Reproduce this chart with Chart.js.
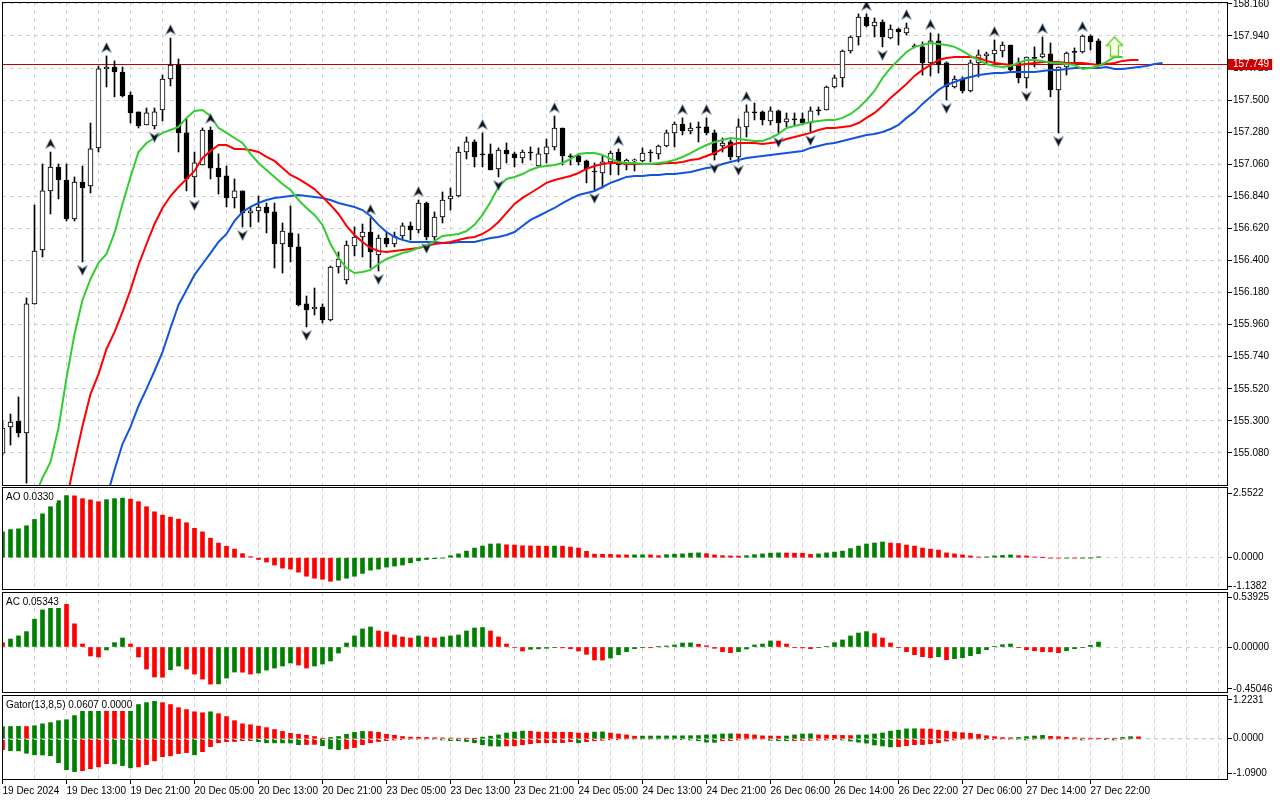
<!DOCTYPE html>
<html>
<head>
<meta charset="utf-8">
<title>USDJPY H1 - Alligator, AO, AC, Gator</title>
<script src="https://cdn.jsdelivr.net/npm/chart.js@4.4.1/dist/chart.umd.min.js"></script>
<style>
  html, body { margin: 0; padding: 0; background: #fff; }
  body { width: 1280px; height: 800px; overflow: hidden; position: relative; }
  canvas { position: absolute; left: 0; display: block; }
</style>
</head>
<body>
<canvas id="main" width="1280" height="487" style="top:0;width:1280px;height:487px"></canvas>
<canvas id="ao" width="1280" height="104" style="top:487px;width:1280px;height:104px"></canvas>
<canvas id="ac" width="1280" height="103" style="top:591px;width:1280px;height:103px"></canvas>
<canvas id="gator" width="1280" height="106" style="top:694px;width:1280px;height:106px"></canvas>
<script>
// time axis labels, one every 8 bars
const timeLabels = ['19 Dec 2024', '19 Dec 13:00', '19 Dec 21:00', '20 Dec 05:00', '20 Dec 13:00', '20 Dec 21:00',
  '23 Dec 05:00', '23 Dec 13:00', '23 Dec 21:00', '24 Dec 05:00', '24 Dec 13:00', '24 Dec 21:00',
  '26 Dec 06:00', '26 Dec 14:00', '26 Dec 22:00', '27 Dec 06:00', '27 Dec 14:00', '27 Dec 22:00'];

// H1 candles, bar 0 .. 137
const opens = [
  155.079, 155.258, 155.299, 155.217, 156.102, 156.472, 156.877, 157.041, 156.952, 156.685,
  156.938, 156.911, 157.172, 157.714, 157.727, 157.693, 157.535, 157.419, 157.330, 157.323,
  157.432, 157.645, 157.741, 157.275, 156.973, 157.055, 157.295, 157.034, 156.980, 156.829,
  156.877, 156.726, 156.740, 156.767, 156.733, 156.513, 156.589, 156.493, 156.102, 156.067,
  156.081, 155.992, 156.355, 156.266, 156.499, 156.561, 156.595, 156.438, 156.554, 156.513,
  156.568, 156.637, 156.609, 156.794, 156.561, 156.698, 156.822, 156.842, 157.144, 157.213,
  157.131, 157.131, 157.028, 157.158, 157.131, 157.103, 157.144, 157.048, 157.131, 157.179,
  157.309, 157.117, 157.117, 157.083, 157.014, 157.000, 157.076, 157.144, 157.055, 157.083,
  157.083, 157.144, 157.131, 157.185, 157.275, 157.336, 157.288, 157.316, 157.316, 157.275,
  157.185, 157.213, 157.110, 157.316, 157.419, 157.419, 157.357, 157.426, 157.350, 157.371,
  157.371, 157.343, 157.432, 157.432, 157.590, 157.652, 157.837, 157.933, 158.070, 158.009,
  158.036, 157.926, 157.988, 157.961, 157.871, 157.865, 157.755, 157.906, 157.755, 157.590,
  157.645, 157.563, 157.755, 157.803, 157.817, 157.837, 157.878, 157.755, 157.652, 157.792,
  157.796, 157.817, 157.570, 157.727, 157.833, 157.830, 157.940, 157.906];
const highs = [
  155.299, 155.347, 155.464, 156.143, 156.781, 157.062, 157.144, 157.062, 157.062, 156.973,
  157.048, 157.343, 157.734, 157.803, 157.769, 157.727, 157.556, 157.419, 157.446, 157.446,
  157.672, 157.926, 157.782, 157.371, 157.144, 157.309, 157.316, 157.131, 157.048, 156.959,
  156.877, 156.767, 156.842, 156.794, 156.794, 156.657, 156.774, 156.582, 156.156, 156.211,
  156.102, 156.362, 156.458, 156.534, 156.630, 156.650, 156.692, 156.575, 156.595, 156.595,
  156.657, 156.664, 156.815, 156.801, 156.733, 156.870, 156.897, 157.179, 157.247, 157.227,
  157.275, 157.199, 157.172, 157.206, 157.144, 157.158, 157.179, 157.172, 157.233, 157.391,
  157.309, 157.131, 157.124, 157.089, 157.069, 157.117, 157.151, 157.165, 157.096, 157.096,
  157.172, 157.158, 157.192, 157.295, 157.350, 157.378, 157.343, 157.350, 157.378, 157.295,
  157.240, 157.227, 157.371, 157.467, 157.480, 157.426, 157.453, 157.432, 157.412, 157.412,
  157.412, 157.453, 157.453, 157.597, 157.672, 157.844, 157.940, 158.091, 158.091, 158.064,
  158.050, 158.016, 157.995, 158.029, 157.885, 157.899, 157.961, 157.954, 157.762, 157.666,
  157.659, 157.775, 157.844, 157.830, 157.913, 157.899, 157.878, 157.789, 157.796, 157.865,
  157.933, 157.892, 157.727, 157.830, 157.858, 157.947, 157.947, 157.920];
const lows = [
  155.065, 155.134, 155.189, 154.873, 156.100, 156.424, 156.719, 156.822, 156.671, 156.671,
  156.390, 156.863, 157.144, 157.590, 157.522, 157.522, 157.343, 157.309, 157.330, 157.302,
  157.357, 157.597, 157.144, 156.877, 156.836, 157.055, 156.959, 156.856, 156.767, 156.760,
  156.630, 156.630, 156.664, 156.589, 156.348, 156.314, 156.390, 156.088, 155.944, 156.026,
  155.971, 155.985, 156.314, 156.239, 156.431, 156.424, 156.348, 156.328, 156.493, 156.493,
  156.541, 156.541, 156.589, 156.541, 156.541, 156.657, 156.746, 156.836, 157.096, 157.041,
  157.041, 157.021, 156.973, 157.069, 157.041, 157.069, 157.089, 157.041, 157.069, 157.158,
  157.055, 157.055, 157.055, 156.932, 156.884, 156.897, 156.987, 156.987, 157.021, 157.014,
  157.076, 157.076, 157.096, 157.179, 157.179, 157.261, 157.268, 157.213, 157.261, 157.089,
  157.144, 157.089, 157.076, 157.247, 157.364, 157.330, 157.330, 157.268, 157.316, 157.330,
  157.330, 157.281, 157.398, 157.432, 157.583, 157.590, 157.823, 157.878, 158.002, 157.933,
  157.865, 157.920, 157.878, 157.947, 157.858, 157.672, 157.666, 157.686, 157.501, 157.583,
  157.549, 157.556, 157.659, 157.755, 157.755, 157.796, 157.700, 157.618, 157.583, 157.727,
  157.789, 157.522, 157.275, 157.672, 157.762, 157.823, 157.844, 157.741];
const closes = [
  155.251, 155.292, 155.217, 156.102, 156.465, 156.877, 157.041, 156.952, 156.685, 156.938,
  156.897, 157.165, 157.714, 157.727, 157.693, 157.528, 157.412, 157.323, 157.412, 157.419,
  157.645, 157.741, 157.275, 156.959, 157.069, 157.295, 157.034, 156.973, 156.829, 156.877,
  156.726, 156.740, 156.767, 156.726, 156.513, 156.602, 156.493, 156.095, 156.060, 156.081,
  155.992, 156.355, 156.410, 156.506, 156.561, 156.595, 156.458, 156.554, 156.513, 156.568,
  156.637, 156.609, 156.794, 156.561, 156.698, 156.815, 156.842, 157.144, 157.213, 157.110,
  157.124, 157.021, 157.158, 157.131, 157.103, 157.144, 157.137, 157.131, 157.179, 157.309,
  157.117, 157.110, 157.076, 157.028, 157.007, 157.076, 157.137, 157.055, 157.089, 157.089,
  157.137, 157.137, 157.185, 157.275, 157.336, 157.288, 157.309, 157.309, 157.275, 157.124,
  157.206, 157.110, 157.316, 157.419, 157.412, 157.364, 157.426, 157.343, 157.371, 157.364,
  157.343, 157.426, 157.426, 157.590, 157.652, 157.837, 157.933, 158.070, 158.009, 158.036,
  157.933, 157.988, 157.967, 157.995, 157.866, 157.755, 157.906, 157.741, 157.590, 157.645,
  157.563, 157.755, 157.810, 157.817, 157.844, 157.878, 157.707, 157.652, 157.796, 157.786,
  157.817, 157.570, 157.727, 157.823, 157.827, 157.940, 157.899, 157.749];

// Alligator lines as drawn (already shifted); first bar index of each
const lipsStart = 4;
const lips = [
  154.778, 154.908, 155.018, 155.251, 155.594, 155.895, 156.129, 156.273, 156.383, 156.445,
  156.589, 156.788, 156.973, 157.144, 157.206, 157.240, 157.275, 157.295, 157.316, 157.378,
  157.426, 157.432, 157.391, 157.309, 157.275, 157.240, 157.206, 157.131, 157.069, 157.021,
  156.973, 156.925, 156.884, 156.815, 156.760, 156.712, 156.644, 156.513, 156.417, 156.348,
  156.314, 156.321, 156.335, 156.376, 156.410, 156.431, 156.451, 156.465, 156.486, 156.506,
  156.534, 156.568, 156.575, 156.582, 156.602, 156.644, 156.712, 156.801, 156.904, 156.959,
  156.973, 156.993, 157.021, 157.041, 157.048, 157.055, 157.069, 157.096, 157.131, 157.137,
  157.137, 157.124, 157.096, 157.076, 157.069, 157.069, 157.062, 157.062, 157.069, 157.076,
  157.089, 157.110, 157.137, 157.165, 157.192, 157.213, 157.227, 157.240, 157.233, 157.227,
  157.220, 157.220, 157.240, 157.268, 157.309, 157.323, 157.336, 157.350, 157.357, 157.364,
  157.364, 157.378, 157.405, 157.446, 157.501, 157.563, 157.652, 157.721, 157.775, 157.830,
  157.865, 157.878, 157.892, 157.885, 157.878, 157.865, 157.837, 157.803, 157.775, 157.748,
  157.734, 157.727, 157.734, 157.755, 157.775, 157.775, 157.769, 157.755, 157.755, 157.748,
  157.741, 157.714, 157.721, 157.734, 157.762, 157.796, 157.796];
const teethStart = 8;
const teeth = [
  154.757, 155.018, 155.265, 155.484, 155.621, 155.793, 155.909, 156.047, 156.198, 156.369,
  156.513, 156.650, 156.760, 156.842, 156.904, 156.959, 157.014, 157.103, 157.151, 157.192,
  157.192, 157.165, 157.165, 157.158, 157.144, 157.110, 157.083, 157.034, 156.987, 156.959,
  156.925, 156.890, 156.836, 156.781, 156.719, 156.637, 156.575, 156.527, 156.486, 156.465,
  156.458, 156.465, 156.472, 156.479, 156.486, 156.499, 156.513, 156.520, 156.527, 156.541,
  156.554, 156.561, 156.582, 156.616, 156.664, 156.726, 156.788, 156.829, 156.863, 156.897,
  156.932, 156.952, 156.966, 156.980, 157.000, 157.028, 157.048, 157.062, 157.069, 157.069,
  157.062, 157.062, 157.062, 157.062, 157.062, 157.069, 157.069, 157.076, 157.089, 157.096,
  157.117, 157.137, 157.165, 157.192, 157.206, 157.206, 157.206, 157.199, 157.206, 157.213,
  157.233, 157.247, 157.261, 157.275, 157.295, 157.309, 157.309, 157.316, 157.323, 157.343,
  157.378, 157.412, 157.460, 157.515, 157.563, 157.611, 157.666, 157.707, 157.741, 157.775,
  157.789, 157.796, 157.796, 157.796, 157.789, 157.769, 157.755, 157.748, 157.741, 157.741,
  157.748, 157.755, 157.762, 157.762, 157.762, 157.755, 157.755, 157.755, 157.748, 157.741,
  157.748, 157.755, 157.769, 157.775, 157.775];
const jawStart = 13;
const jaw = [
  154.771, 154.963, 155.141, 155.258, 155.402, 155.519, 155.642, 155.772, 155.937, 156.095,
  156.198, 156.301, 156.376, 156.451, 156.527, 156.582, 156.671, 156.733, 156.767, 156.794,
  156.815, 156.829, 156.836, 156.842, 156.849, 156.842, 156.836, 156.829, 156.815, 156.794,
  156.781, 156.767, 156.746, 156.705, 156.644, 156.595, 156.561, 156.541, 156.527, 156.527,
  156.527, 156.527, 156.520, 156.520, 156.527, 156.527, 156.527, 156.541, 156.554, 156.561,
  156.575, 156.595, 156.637, 156.678, 156.705, 156.733, 156.760, 156.794, 156.822, 156.849,
  156.863, 156.877, 156.904, 156.932, 156.952, 156.973, 156.980, 156.980, 156.987, 156.987,
  156.993, 156.993, 157.000, 157.007, 157.021, 157.034, 157.041, 157.062, 157.076, 157.089,
  157.103, 157.110, 157.117, 157.124, 157.131, 157.137, 157.144, 157.151, 157.172, 157.185,
  157.199, 157.206, 157.220, 157.233, 157.247, 157.261, 157.268, 157.281, 157.302, 157.330,
  157.378, 157.419, 157.474, 157.522, 157.570, 157.604, 157.624, 157.645, 157.659, 157.672,
  157.679, 157.686, 157.686, 157.693, 157.693, 157.693, 157.693, 157.700, 157.707, 157.707,
  157.714, 157.721, 157.721, 157.721, 157.721, 157.727, 157.714, 157.714, 157.721, 157.727,
  157.734, 157.748, 157.755];

// fractal bars
const fractalUp = [6, 13, 21, 26, 46, 52, 60, 69, 77, 85, 88, 93, 108, 113, 116, 124, 130, 135];
const fractalDown = [3, 10, 19, 24, 30, 38, 47, 53, 62, 74, 89, 92, 97, 101, 110, 118, 128, 132];
// buy signal arrow after the last bar
const signalBar = 139;
const signalPrice = 157.865;

const priceTicks = [158.16, 157.94, 157.72, 157.50, 157.28, 157.06, 156.84, 156.62, 156.40, 156.18,
  155.96, 155.74, 155.52, 155.30, 155.08];

// Awesome Oscillator
const ao = [
  1.02, 1.11, 1.14, 1.26, 1.51, 1.73, 2.01, 2.25, 2.45, 2.44,
  2.33, 2.28, 2.21, 2.29, 2.33, 2.35, 2.31, 2.21, 2.01, 1.81,
  1.68, 1.60, 1.52, 1.38, 1.16, 1.02, 0.77, 0.58, 0.45, 0.34,
  0.16, 0.04, -0.07, -0.17, -0.29, -0.41, -0.45, -0.57, -0.73, -0.81,
  -0.85, -0.93, -0.89, -0.81, -0.73, -0.62, -0.49, -0.45, -0.37, -0.33,
  -0.29, -0.20, -0.12, -0.07, -0.04, -0.01, 0.08, 0.15, 0.26, 0.38,
  0.46, 0.54, 0.55, 0.51, 0.50, 0.47, 0.465, 0.46, 0.455, 0.46,
  0.455, 0.42, 0.38, 0.25, 0.14, 0.135, 0.13, 0.115, 0.11, 0.112,
  0.114, 0.11, 0.08, 0.12, 0.14, 0.15, 0.18, 0.19, 0.16, 0.11,
  0.08, 0.07, 0.065, 0.08, 0.12, 0.15, 0.18, 0.19, 0.185, 0.18,
  0.175, 0.13, 0.15, 0.19, 0.22, 0.26, 0.36, 0.46, 0.54, 0.58,
  0.62, 0.58, 0.56, 0.50, 0.46, 0.38, 0.34, 0.30, 0.19, 0.15,
  0.11, 0.07, 0.03, 0.035, 0.07, 0.09, 0.11, 0.08, 0.07, 0.03,
  0.005, -0.01, -0.015, -0.01, -0.012, -0.008, -0.005, 0.0330];
const aoTicks = [2.5522, 0, -1.1382];

// Accelerator Oscillator
const ac = [
  0.047, 0.086, 0.12, 0.166, 0.30, 0.40, 0.45, 0.50, 0.46, 0.25,
  0.032, -0.097, -0.108, -0.032, 0.047, 0.097, 0.032, -0.108, -0.238, -0.324,
  -0.326, -0.245, -0.205, -0.238, -0.292, -0.346, -0.40, -0.398, -0.335, -0.27,
  -0.272, -0.292, -0.281, -0.249, -0.227, -0.205, -0.173, -0.195, -0.227, -0.205,
  -0.184, -0.151, -0.065, 0.043, 0.119, 0.195, 0.216, 0.173, 0.162, 0.13,
  0.108, 0.097, 0.119, 0.108, 0.097, 0.108, 0.119, 0.13, 0.173, 0.205,
  0.21, 0.173, 0.108, 0.032, -0.005, -0.043, -0.025, -0.02, -0.014, -0.007,
  -0.009, -0.018, -0.043, -0.079, -0.14, -0.141, -0.119, -0.083, -0.05, -0.018,
  -0.007, -0.008, 0.002, 0.011, 0.022, 0.043, 0.044, 0.029, 0.014, -0.014,
  -0.05, -0.061, -0.05, -0.022, 0.022, 0.032, 0.065, 0.064, 0.032, -0.004,
  -0.01, -0.018, -0.007, 0.007, 0.047, 0.076, 0.119, 0.151, 0.166, 0.144,
  0.097, 0.043, -0.004, -0.05, -0.083, -0.105, -0.115, -0.105, -0.137, -0.126,
  -0.115, -0.094, -0.072, -0.029, 0.007, 0.025, 0.032, -0.007, -0.029, -0.04,
  -0.05, -0.052, -0.061, -0.04, -0.018, -0.007, 0.018, 0.05343];
const acTicks = [0.53925, 0, -0.45046];

// Gator oscillator, upper |jaw-teeth| and lower -|teeth-lips|, bar 0 .. 142
const gatorUp = [
  0.38, 0.385, 0.39, 0.385, 0.41, 0.47, 0.51, 0.57, 0.60, 0.73,
  0.92, 0.925, 0.93, 0.925, 0.92, 0.915, 1.01, 1.08, 1.14, 1.18,
  1.14, 1.08, 0.98, 0.92, 0.85, 0.82, 0.85, 0.79, 0.70, 0.57,
  0.47, 0.44, 0.40, 0.35, 0.29, 0.23, 0.17, 0.14, 0.11, 0.07,
  0.01, 0.04, 0.07, 0.14, 0.20, 0.23, 0.225, 0.20, 0.14, 0.11,
  0.07, 0.05, 0.045, 0.04, 0.03, 0.025, 0.02, 0.015, 0.01, 0.005,
  0.05, 0.08, 0.12, 0.18, 0.21, 0.24, 0.235, 0.21, 0.208, 0.206,
  0.204, 0.202, 0.18, 0.178, 0.21, 0.215, 0.18, 0.15, 0.12, 0.08,
  0.082, 0.084, 0.086, 0.088, 0.09, 0.092, 0.095, 0.10, 0.12, 0.125,
  0.15, 0.155, 0.15, 0.145, 0.12, 0.09, 0.085, 0.08, 0.085, 0.12,
  0.15, 0.155, 0.12, 0.115, 0.11, 0.105, 0.10, 0.116, 0.12, 0.15,
  0.18, 0.24, 0.27, 0.31, 0.315, 0.31, 0.305, 0.27, 0.24, 0.21,
  0.19, 0.17, 0.14, 0.095, 0.065, 0.035, 0.03, 0.04, 0.065, 0.085,
  0.105, 0.075, 0.065, 0.045, 0.03, 0.02, 0.018, 0.016, 0.012, 0.01,
  0.04, 0.065, 0.0607];
const gatorDown = [
  -0.35, -0.38, -0.385, -0.46, -0.51, -0.515, -0.54, -0.76, -0.98, -1.04,
  -1.01, -0.95, -0.89, -0.79, -0.795, -0.85, -0.92, -0.89, -0.82, -0.70,
  -0.57, -0.54, -0.47, -0.44, -0.51, -0.41, -0.25, -0.13, -0.095, -0.09,
  -0.063, -0.06, -0.095, -0.13, -0.132, -0.134, -0.136, -0.19, -0.185, -0.18,
  -0.22, -0.32, -0.35, -0.32, -0.28, -0.19, -0.13, -0.09, -0.06, -0.04,
  -0.03, -0.02, -0.015, -0.01, -0.02, -0.04, -0.06, -0.065, -0.09, -0.13,
  -0.19, -0.23, -0.235, -0.23, -0.225, -0.19, -0.16, -0.13, -0.128, -0.126,
  -0.124, -0.095, -0.13, -0.095, -0.065, -0.05, -0.035, -0.033, -0.01, -0.012,
  -0.014, -0.012, -0.013, -0.015, -0.02, -0.03, -0.04, -0.065, -0.11, -0.115,
  -0.065, -0.06, -0.04, -0.02, -0.01, -0.005, -0.05, -0.06, -0.065, -0.06,
  -0.055, -0.05, -0.045, -0.04, -0.03, -0.04, -0.075, -0.11, -0.14, -0.20,
  -0.23, -0.26, -0.255, -0.22, -0.19, -0.185, -0.16, -0.13, -0.075, -0.04,
  -0.02, -0.01, -0.012, -0.03, -0.028, -0.01, -0.02, -0.022, -0.04, -0.02,
  -0.01, -0.008, -0.007, -0.006, -0.005, -0.04, -0.01, -0.008, -0.03, -0.04,
  -0.02, -0.01, 0];
const gatorTicks = [1.2231, 0, -1.09];

// ---- styling ----
const GREEN = '#008000', RED = '#ff0000';
const GRID = '#d4d4d4';
const FONT = '"Liberation Sans", Arial, sans-serif';
const FONT_SIZE = 10;
const X_MIN = -0.0625, X_MAX = 153.1875;   // bar i sits at pixel 2.5 + 8*i
const AXIS_W = 52;

Chart.defaults.font.family = FONT;
Chart.defaults.font.size = FONT_SIZE;
Chart.defaults.color = '#000';
Chart.defaults.animation = false;
Chart.defaults.plugins.legend.display = false;
Chart.defaults.plugins.tooltip.enabled = false;

function colorsByDirection(vals, firstUp, useAbs) {
  return vals.map((v, i) => {
    if (i === 0) return firstUp ? GREEN : RED;
    const up = useAbs ? Math.abs(v) >= Math.abs(vals[i - 1]) : v >= vals[i - 1];
    return up ? GREEN : RED;
  });
}

const hasLabel = v => v % 8 === 0 && !!timeLabels[v / 8];

function xAxis(showLabels) {
  return {
    type: 'linear', min: X_MIN, max: X_MAX, offset: false,
    afterBuildTicks: s => { const t = []; for (let v = 0; v <= 152; v += 4) t.push({ value: v }); s.ticks = t; },
    afterFit: s => { s.height = showLabels ? 20 : 0; s.paddingLeft = 0; s.paddingRight = 0; },
    grid: {
      offset: false, color: GRID, drawTicks: showLabels, tickLength: 4,
      tickColor: c => (c.tick && hasLabel(c.tick.value)) ? '#000' : 'rgba(0,0,0,0)'
    },
    border: { display: false, dash: [4, 4] },
    ticks: {
      display: showLabels, autoSkip: false, maxRotation: 0, minRotation: 0, align: 'start', padding: 1,
      callback: v => hasLabel(v) ? timeLabels[v / 8] : ''
    }
  };
}

function yAxis(min, max, ticks, digits, zeroOnly) {
  return {
    position: 'right', min: min, max: max,
    afterBuildTicks: s => { s.ticks = ticks.map(v => ({ value: v })); },
    afterFit: s => { s.width = AXIS_W; s.paddingTop = 0; s.paddingBottom = 0; },
    grid: {
      color: c => (!zeroOnly || (c.tick && c.tick.value === 0)) ? GRID : 'rgba(0,0,0,0)',
      tickLength: 4, tickColor: '#000'
    },
    border: { display: false, dash: [4, 4] },
    ticks: { padding: 1, callback: v => Number(v).toFixed(digits) }
  };
}

// frame round each pane
const framePlugin = {
  id: 'frame',
  afterDraw(chart) {
    const a = chart.chartArea, ctx = chart.ctx;
    ctx.save();
    ctx.strokeStyle = '#000';
    ctx.lineWidth = 1;
    ctx.strokeRect(a.left + 0.5, a.top + 0.5, a.right - a.left - 1, a.bottom - a.top - 1);
    ctx.restore();
  }
};

// indicator name in the top left corner of a sub pane
const paneLabelPlugin = {
  id: 'paneLabel',
  afterDatasetsDraw(chart, args, opts) {
    if (!opts.text) return;
    const ctx = chart.ctx, a = chart.chartArea;
    ctx.save();
    ctx.font = FONT_SIZE + 'px ' + FONT;
    const w = ctx.measureText(opts.text).width;
    ctx.fillStyle = '#fff';
    ctx.fillRect(a.left + 2, a.top + 4, w + 5, 12);
    ctx.fillStyle = '#000';
    ctx.textBaseline = 'middle';
    ctx.fillText(opts.text, a.left + 4, a.top + 10.5);
    ctx.restore();
  }
};

// dashed zero line drawn over the gator bars
const zeroOverPlugin = {
  id: 'zeroOver',
  afterDatasetsDraw(chart, args, opts) {
    if (!opts.on) return;
    const ctx = chart.ctx, a = chart.chartArea;
    const y = Math.round(chart.scales.y.getPixelForValue(0)) + 0.5;
    ctx.save();
    ctx.strokeStyle = '#e4e4e4';
    ctx.setLineDash([4, 4]);
    ctx.beginPath();
    ctx.moveTo(a.left, y);
    ctx.lineTo(a.right, y);
    ctx.stroke();
    ctx.restore();
  }
};

// current price line and tag
const lastPrice = closes[closes.length - 1];
const pricePlugin = {
  id: 'priceLine',
  beforeDatasetsDraw(chart) {
    const ctx = chart.ctx, a = chart.chartArea;
    const y = Math.round(chart.scales.y.getPixelForValue(lastPrice)) + 0.5;
    ctx.save();
    ctx.strokeStyle = '#c00000';
    ctx.lineWidth = 1;
    ctx.beginPath();
    ctx.moveTo(a.left, y);
    ctx.lineTo(a.right, y);
    ctx.stroke();
    ctx.restore();
  },
  afterDraw(chart) {
    const ctx = chart.ctx, a = chart.chartArea;
    const y = Math.round(chart.scales.y.getPixelForValue(lastPrice));
    ctx.save();
    ctx.font = FONT_SIZE + 'px ' + FONT;
    const label = lastPrice.toFixed(3);
    const w = ctx.measureText(label).width;
    ctx.fillStyle = '#cc0000';
    ctx.fillRect(a.right, y - 5, Math.max(42, w + 8), 11);
    ctx.fillStyle = '#fff';
    ctx.textBaseline = 'middle';
    ctx.fillText(label, a.right + 5, y + 0.5);
    ctx.restore();
  }
};

function fractalMark(up) {
  const c = document.createElement('canvas');
  c.width = 11; c.height = 35;
  const g = c.getContext('2d');
  const cy = up ? 17.5 - 8.5 : 17.5 + 8.5;
  const s = up ? 1 : -1;
  g.beginPath();
  g.moveTo(5.5, cy - 5 * s);
  g.lineTo(10.5, cy + 5 * s);
  g.lineTo(5.5, cy + 2 * s);
  g.lineTo(0.5, cy + 5 * s);
  g.closePath();
  g.fillStyle = '#111';
  g.fill();
  g.strokeStyle = '#86a6cc';
  g.lineWidth = 0.7;
  g.stroke();
  return c;
}

function signalMark() {
  const c = document.createElement('canvas');
  c.width = 19; c.height = 23;
  const g = c.getContext('2d');
  const path = () => {
    g.beginPath();
    g.moveTo(9.5, 1.5); g.lineTo(17.5, 10); g.lineTo(13.5, 10); g.lineTo(13.5, 21);
    g.lineTo(5.5, 21); g.lineTo(5.5, 10); g.lineTo(1.5, 10); g.closePath();
  };
  path();
  g.fillStyle = '#fbfff0';
  g.fill();
  g.strokeStyle = '#5fd020';
  g.lineWidth = 1.3;
  g.stroke();
  g.strokeStyle = 'rgba(220,255,150,0.9)';
  g.lineWidth = 0.6;
  g.save(); g.translate(9.5, 12); g.scale(0.78, 0.82); g.translate(-9.5, -12); path(); g.stroke(); g.restore();
  return c;
}

const bars = closes.map((_, i) => i);
const common = { responsive: false, devicePixelRatio: 1, events: [] };

// ---- main price pane ----
new Chart(document.getElementById('main'), {
  type: 'bar',
  data: {
    datasets: [
      { type: 'line', data: fractalUp.map(i => ({ x: i, y: highs[i] })), showLine: false,
        pointStyle: fractalMark(true), pointRadius: 3, order: 0 },
      { type: 'line', data: fractalDown.map(i => ({ x: i, y: lows[i] })), showLine: false,
        pointStyle: fractalMark(false), pointRadius: 3, order: 0 },
      { type: 'line', data: [{ x: signalBar, y: signalPrice }], showLine: false,
        pointStyle: signalMark(), pointRadius: 3, order: 0 },
      { type: 'line', data: lips.map((v, k) => ({ x: lipsStart + k, y: v })), borderColor: '#33cc33',
        borderWidth: 2, pointRadius: 0, tension: 0, order: 1 },
      { type: 'line', data: teeth.map((v, k) => ({ x: teethStart + k, y: v })), borderColor: '#ff0000',
        borderWidth: 2, pointRadius: 0, tension: 0, order: 1 },
      { type: 'line', data: jaw.map((v, k) => ({ x: jawStart + k, y: v })), borderColor: '#1155dd',
        borderWidth: 2, pointRadius: 0, tension: 0, order: 1 },
      { type: 'bar', data: bars.map(i => ({ x: i, y: [opens[i], closes[i]] })),
        backgroundColor: bars.map(i => closes[i] >= opens[i] ? '#ffffff' : '#000000'),
        borderColor: '#000', borderWidth: 1, borderSkipped: false, barThickness: 5, minBarLength: 1,
        grouped: false, order: 2 },
      { type: 'bar', data: bars.map(i => ({ x: i, y: [lows[i], highs[i]] })),
        backgroundColor: '#000', borderWidth: 0, barThickness: 1, grouped: false, order: 3 }
    ]
  },
  options: Object.assign({}, common, {
    layout: { autoPadding: false, padding: { left: 2, right: 0, top: 2, bottom: 1 } },
    scales: { x: xAxis(false), y: yAxis(154.853, 158.173, priceTicks, 3, false) }
  }),
  plugins: [pricePlugin, framePlugin]
});

// ---- AO pane ----
new Chart(document.getElementById('ao'), {
  type: 'bar',
  data: {
    datasets: [{ data: ao.map((v, i) => ({ x: i, y: v })), backgroundColor: colorsByDirection(ao, true, false),
      barThickness: 4, grouped: false }]
  },
  options: Object.assign({}, common, {
    layout: { autoPadding: false, padding: { left: 2, right: 0, top: 0, bottom: 1 } },
    scales: { x: xAxis(false), y: yAxis(-1.274, 2.789, aoTicks, 4, true) },
    plugins: { paneLabel: { text: 'AO ' + ao[ao.length - 1].toFixed(4) } }
  }),
  plugins: [paneLabelPlugin, framePlugin]
});

// ---- AC pane ----
new Chart(document.getElementById('ac'), {
  type: 'bar',
  data: {
    datasets: [{ data: ac.map((v, i) => ({ x: i, y: v })), backgroundColor: colorsByDirection(ac, false, false),
      barThickness: 4, grouped: false }]
  },
  options: Object.assign({}, common, {
    layout: { autoPadding: false, padding: { left: 2, right: 0, top: 1, bottom: 1 } },
    scales: { x: xAxis(false), y: yAxis(-0.4961, 0.5932, acTicks, 5, true) },
    plugins: { paneLabel: { text: 'AC ' + ac[ac.length - 1].toFixed(5) } }
  }),
  plugins: [paneLabelPlugin, framePlugin]
});

// ---- Gator pane ----
const gLast = gatorUp.length - 1;
new Chart(document.getElementById('gator'), {
  type: 'bar',
  data: {
    datasets: [
      { data: gatorUp.map((v, i) => ({ x: i, y: v })), backgroundColor: colorsByDirection(gatorUp, true, true),
        barThickness: 4, grouped: false },
      { data: gatorDown.map((v, i) => ({ x: i, y: v })), backgroundColor: colorsByDirection(gatorDown, false, true),
        barThickness: 4, grouped: false }
    ]
  },
  options: Object.assign({}, common, {
    layout: { autoPadding: false, padding: { left: 2, right: 0, top: 1, bottom: 0 } },
    scales: { x: xAxis(true), y: yAxis(-1.305, 1.381, gatorTicks, 4, true) },
    plugins: {
      paneLabel: { text: 'Gator(13,8,5) ' + gatorUp[gLast].toFixed(4) + ' ' + Math.abs(gatorDown[gLast]).toFixed(4) },
      zeroOver: { on: true }
    }
  }),
  plugins: [zeroOverPlugin, paneLabelPlugin, framePlugin]
});
</script>
</body>
</html>
